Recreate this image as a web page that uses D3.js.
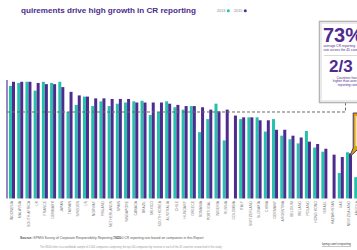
<!DOCTYPE html>
<html><head><meta charset="utf-8">
<script src="https://cdn.jsdelivr.net/npm/d3@7"></script>
<style>html,body{margin:0;padding:0;background:#fff;overflow:hidden}svg{display:block;font-family:"Liberation Sans","DejaVu Sans",sans-serif}</style>
</head><body>
<svg id="c" width="357" height="250"></svg>
<script>
const countries = ["INDONESIA","MALAYSIA","SOUTH AFRICA","UK","FRANCE","DENMARK","JAPAN","TAIWAN","SWEDEN","US","NORWAY","FINLAND","NETHERLANDS","SPAIN","SINGAPORE","CANADA","BRAZIL","MEXICO","SOUTH KOREA","AUSTRALIA","CHILE","HUNGARY","GREECE","ROMANIA","PORTUGAL","NIGERIA","RUSSIA","COLOMBIA","ITALY","SWITZERLAND","SLOVAKIA","CHINA","GERMANY","ARGENTINA","BELGIUM","IRELAND","POLAND","HONG KONG","ISRAEL","KAZAKHSTAN","UAE","NEW ZEALAND","ANGOLA"];
const rate2013 = [95,97.5,98.5,91,98.5,97.5,98.5,73,79,86,78,82,78,80,81,82,82.5,70.5,73,82,77,75,78,56,67,80,49,null,67,68.5,68.5,56.5,67,53,50,46.5,57,43,39.5,null,21.5,39,18];
const rate2015 = [98.5,98.5,98.5,97.5,96.5,96.5,94,90,87,86,84.5,84.5,84,84,84,81,81,81,81,80,79,78,78,77,75,73.5,75,70,68.5,68.5,66,66,58,58,53,51.5,48,46,42,37,35,38,25];
const years = ["2013","2015"];
const averageRate = 73;
const colors = {"2013":"#27bfae","2015":"#4e2c8f"};

const svg = d3.select("#c");
const step = 8.22, pIn = 0.27;
const x0 = d3.scaleBand().domain(countries)
  .range([9, 9 + (countries.length - pIn) * step]).paddingInner(pIn).paddingOuter(0);
const x1 = d3.scaleBand().domain(years).range([0, x0.bandwidth()]);
const y = d3.scaleLinear().domain([0, 100]).range([198.5, 80]);

// title (left part cropped in the reference)
const defs = svg.append("defs");
defs.append("clipPath").attr("id","tclip").append("rect").attr("x",21).attr("y",0).attr("width",200).attr("height",20);
svg.append("text").attr("clip-path","url(#tclip)")
  .attr("x",196).attr("y",12.5).attr("text-anchor","end")
  .attr("font-size",8.1).attr("font-weight","bold").attr("fill","#4b2c8c")
  .text("Regulatory requirements drive high growth in CR reporting");

// legend
const lg = svg.append("g").attr("transform","translate(217,12)");
years.forEach((yr,i)=>{
  const g = lg.append("g").attr("transform",`translate(${i*17},0)`);
  g.append("text").attr("x",0).attr("y",0).attr("font-size",3.8).attr("fill","#888").text(yr);
  g.append("circle").attr("cx",11.3).attr("cy",-1.3).attr("r",1.5).attr("fill",colors[yr]);
});

// left axis line (lavender)
svg.append("rect").attr("x",6).attr("y",y(100)).attr("width",2).attr("height",y(0)-y(100)).attr("fill","#9d86c4");

// bars
const data = countries.map((c,i)=>({c, v:{"2013":rate2013[i],"2015":rate2015[i]}}));
const groups = svg.append("g").selectAll("g").data(data).join("g")
  .attr("transform", d=>`translate(${x0(d.c)},0)`);
groups.selectAll("rect").data(d=>years.filter(yr=>d.v[yr]!=null).map(yr=>({yr,val:d.v[yr]})))
  .join("rect")
  .attr("x", d=>x1(d.yr)).attr("width", x1.bandwidth())
  .attr("y", d=>y(d.val)).attr("height", d=>y(0)-y(d.val))
  .attr("fill", d=>colors[d.yr]);

// country labels
svg.append("g").selectAll("text").data(countries).join("text")
  .attr("transform", c=>`translate(${x0(c)+x0.bandwidth()/2+1.2},201) rotate(-90)`)
  .attr("text-anchor","end").attr("font-size",3.5).attr("fill","#777").text(c=>c);

// average dashed line
const yAvg = y(averageRate);
const dashX = 345.5;
svg.append("path").attr("d",`M7,${yAvg}H${dashX}V102`)
  .attr("fill","none").attr("stroke","#6a6a6a").attr("stroke-width",1).attr("stroke-dasharray","3,2");

// callout box
const box = svg.append("g");
box.append("rect").attr("x",319.5).attr("y",21.5).attr("width",60).attr("height",81)
  .attr("fill","#fff").attr("stroke","#b5b5b5").attr("stroke-width",1.6);
box.append("rect").attr("x",321.5).attr("y",23.5).attr("width",60).attr("height",77)
  .attr("fill","none").attr("stroke","#dcdcdc").attr("stroke-width",0.6);
box.append("text").attr("x",323).attr("y",42).attr("font-size",20).attr("font-weight","bold")
  .attr("fill","#4e2c8f").text(averageRate + "%");
box.append("text").attr("x",323.5).attr("y",47).attr("font-size",3.3).attr("fill","#4e2c8f").text("average CR reporting");
box.append("text").attr("x",323.5).attr("y",51).attr("font-size",3.3).attr("fill","#4e2c8f").text("rate across the 45 countries");
box.append("line").attr("x1",324).attr("x2",380).attr("y1",55.5).attr("y2",55.5).attr("stroke","#cfcfcf").attr("stroke-width",0.8);
box.append("text").attr("x",329).attr("y",72).attr("font-size",17).attr("font-weight","bold")
  .attr("fill","#4e2c8f").text("2/3");
[["Countries have",78.5],["higher than average",82],["reporting rate",85.5]].forEach(([t,yy])=>{
  box.append("text").attr("x",347.5).attr("y",yy).attr("text-anchor","middle").attr("font-size",3.3).attr("fill","#4e2c8f").text(t);
});

// gold highlight callout at right
const gold = svg.append("g");
gold.append("path").attr("d","M353.2,113 H372 V150 H357 L349.5,157 L353.2,148 Z")
  .attr("fill","#d8a21c").attr("stroke","#3b2a5c").attr("stroke-width",0.9);
gold.append("path").attr("d","M355.5,116 H372 V146 H355.5 Z").attr("fill","#f2e4b8");

// footer
svg.append("text").attr("x",20).attr("y",239).attr("font-size",3.4).attr("fill","#555")
  .html('<tspan font-weight="bold">Source:</tspan> KPMG Survey of Corporate Responsibility Reporting 2015');
svg.append("text").attr("x",113).attr("y",239).attr("font-size",3.4).attr("fill","#555")
  .text("* N100 CR reporting rate based on companies in this Report");
svg.append("text").attr("x",40).attr("y",248).attr("font-size",2.6).attr("fill","#999")
  .text("The N100 refers to a worldwide sample of 4,500 companies comprising the top 100 companies by revenue in each of the 45 countries researched in this study.");
svg.append("text").attr("x",322).attr("y",245).attr("font-size",3).attr("fill","#444").attr("text-decoration","underline")
  .text("kpmg.com/crreporting");
</script>
</body></html>
